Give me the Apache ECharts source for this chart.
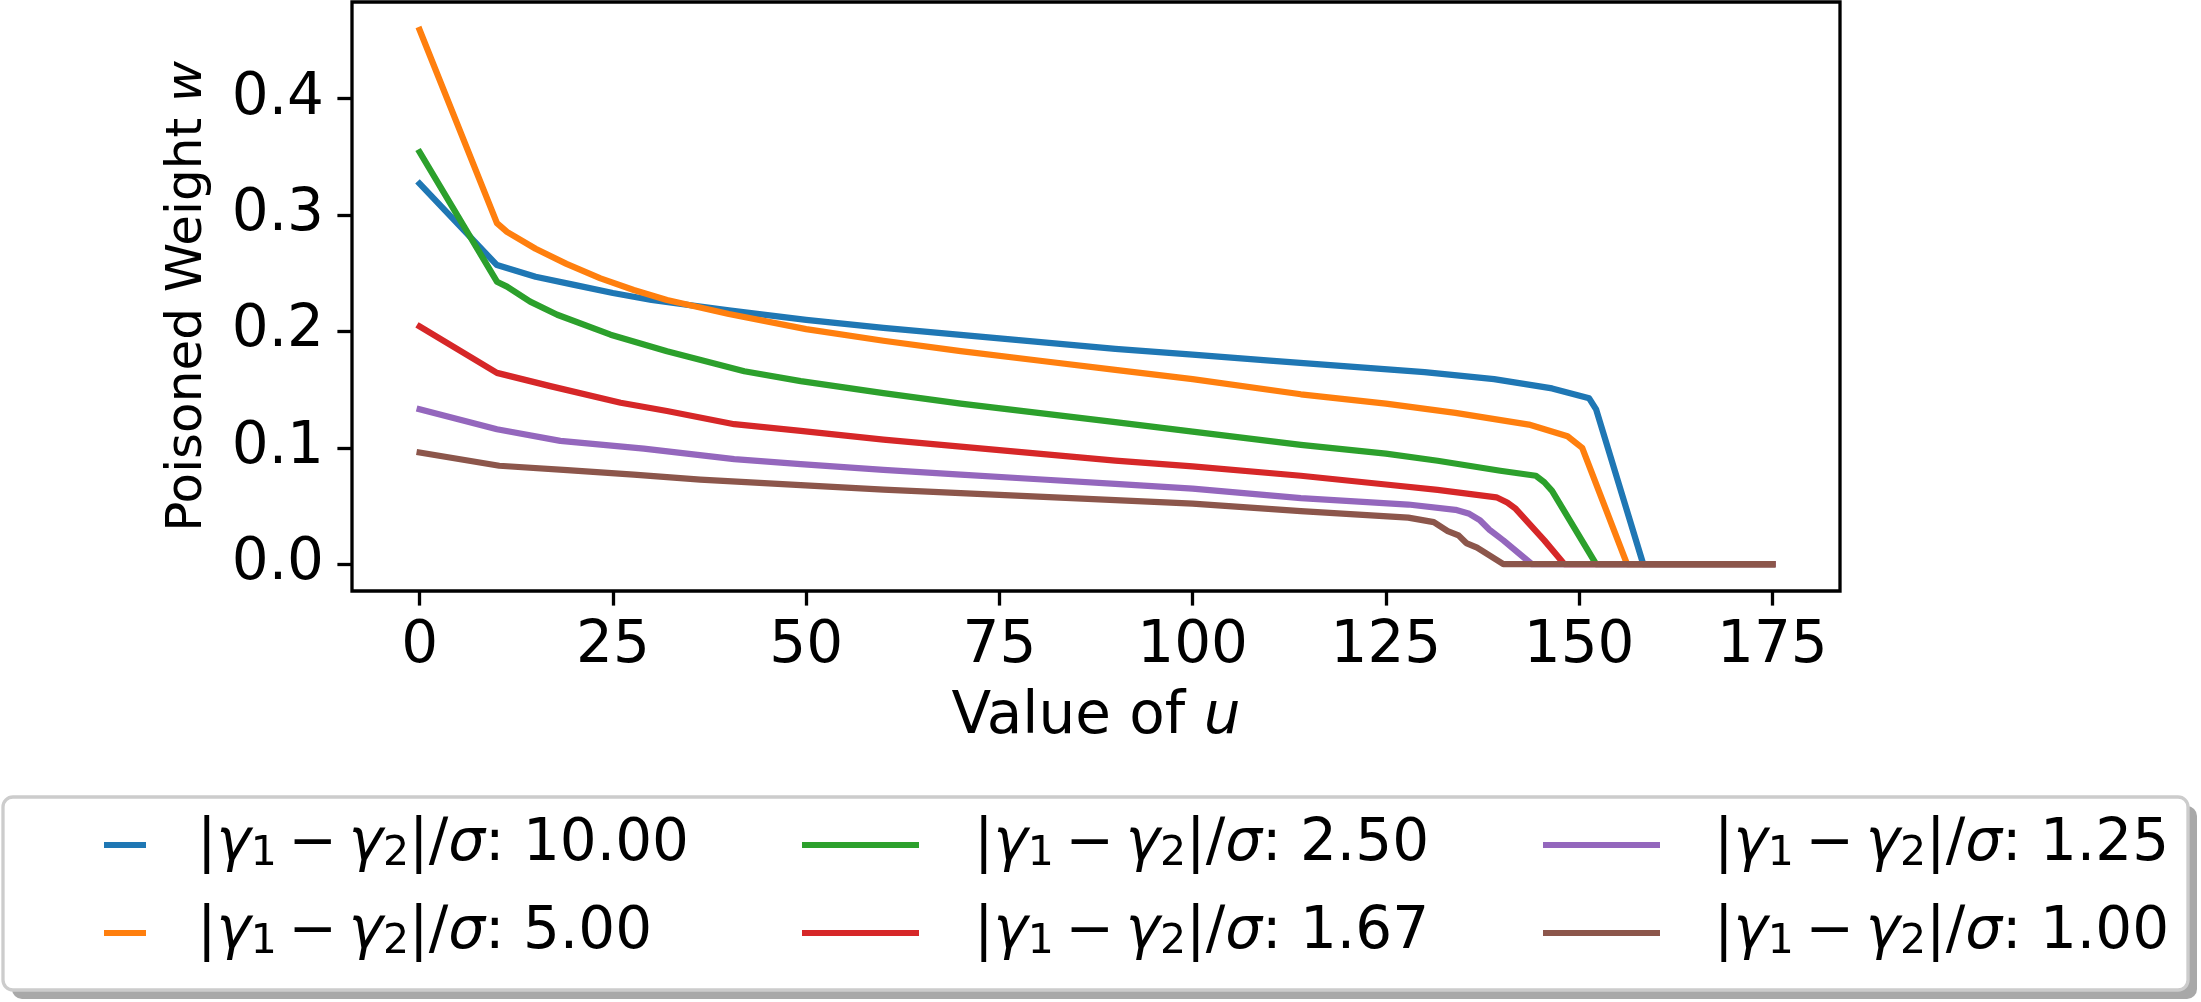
<!DOCTYPE html>
<html>
<head>
<meta charset="utf-8">
<script src="https://cdn.jsdelivr.net/npm/echarts@6/dist/echarts.min.js"></script>
<style>
  html, body { margin: 0; padding: 0; background: #fff; }
  #chart { width: 2201px; height: 1002px; }
</style>
</head>
<body>
<div id="chart"></div>
<script>
// Legend values, one per curve
const ratioLabels = ['10.00', '5.00', '2.50', '1.67', '1.25', '1.00'];
const colors = ['#1f77b4', '#ff7f0e', '#2ca02c', '#d62728', '#9467bd', '#8c564b'];

// u values and poisoned weight w
const uRatio10 = [0, 10, 15, 20, 25, 30, 40, 50, 60, 70, 80, 90, 100, 110, 120, 130, 139, 146.5, 151.3, 152.2, 158.3, 175];
const wRatio10 = [0.327, 0.257, 0.247, 0.240, 0.233, 0.227, 0.218, 0.210, 0.203, 0.197, 0.191, 0.185, 0.180, 0.175, 0.170, 0.165, 0.159, 0.151, 0.1425, 0.133, 0, 0];

const uRatio5 = [0, 10, 11.3, 15, 19, 23.4, 27.7, 32, 40, 50, 60, 70, 80, 90, 100, 114, 125, 134, 143.5, 148.5, 150.4, 156.2, 175];
const wRatio5 = [0.459, 0.293, 0.2855, 0.271, 0.258, 0.2456, 0.2356, 0.227, 0.215, 0.202, 0.192, 0.183, 0.175, 0.167, 0.159, 0.146, 0.138, 0.130, 0.120, 0.110, 0.100, 0, 0];

const uRatio25 = [0, 10, 11.3, 14.3, 17.8, 24.7, 32, 42, 49.3, 60, 70, 80, 90, 100, 114, 125, 131.7, 139.8, 144.4, 145.5, 146.5, 152.2, 175];
const wRatio25 = [0.354, 0.2427, 0.2385, 0.2256, 0.2143, 0.1972, 0.1829, 0.1658, 0.1573, 0.147, 0.138, 0.130, 0.122, 0.114, 0.1026, 0.095, 0.0889, 0.0803, 0.076, 0.0704, 0.063, 0, 0];

const uRatio167 = [0, 10, 16.9, 26, 32, 40.7, 49.3, 60, 70, 80, 90, 100, 114, 125, 131.7, 139.3, 140.7, 141.8, 145.5, 148.1, 175];
const wRatio167 = [0.2043, 0.1644, 0.153, 0.1387, 0.1316, 0.1203, 0.1145, 0.107, 0.101, 0.095, 0.089, 0.084, 0.076, 0.0685, 0.0638, 0.0575, 0.053, 0.0476, 0.0205, 0, 0];

const uRatio125 = [0, 10, 18.2, 29, 40.7, 49.3, 60, 70, 80, 90, 100, 114, 127.9, 134, 135.8, 137.2, 138.4, 140.2, 143.9, 175];
const wRatio125 = [0.1331, 0.116, 0.106, 0.0994, 0.0903, 0.086, 0.081, 0.077, 0.073, 0.069, 0.065, 0.0567, 0.0513, 0.0467, 0.0433, 0.0376, 0.0296, 0.0205, 0, 0];

const uRatio1 = [0, 10.3, 19.1, 27.7, 36.3, 49.3, 60, 70, 80, 90, 100, 114, 127.9, 131.2, 133, 134.4, 135.4, 136.8, 140.2, 175];
const wRatio1 = [0.096, 0.0846, 0.0809, 0.0769, 0.0726, 0.068, 0.064, 0.061, 0.058, 0.055, 0.052, 0.0456, 0.040, 0.0362, 0.0285, 0.0248, 0.0182, 0.0142, 0, 0];

const xTicks = [0, 25, 50, 75, 100, 125, 150, 175];
const yTicks = [0, 0.1, 0.2, 0.3, 0.4];

const curves = [
  [uRatio10, wRatio10],
  [uRatio5, wRatio5],
  [uRatio25, wRatio25],
  [uRatio167, wRatio167],
  [uRatio125, wRatio125],
  [uRatio1, wRatio1]
];

const FONT = 'DejaVu Sans';
// thin spaces around the minus, like mathtext
const seriesNames = ratioLabels.map(r => '|γ1\u2009−\u2009γ2|/σ: ' + r);

const chart = echarts.init(document.getElementById('chart'));

// mathtext-like label: italic greek letters, subscript digits
function legendLabel(name) {
  return name
    .replace(/γ(\d)/g, '{i|γ}{s|$1}')
    .replace(/σ/g, '{i|σ}');
}

const legendRich = {
  i: { fontFamily: FONT, fontSize: 58, fontStyle: 'italic', color: '#000', lineHeight: 60 },
  s: { fontFamily: FONT, fontSize: 41, color: '#000', lineHeight: 28, verticalAlign: 'bottom' }
};

function makeLegend(names, left, iconW, pad) {
  return {
    orient: 'vertical',
    left: left,
    top: 815,
    padding: 0,
    itemGap: 28,
    itemWidth: iconW,
    itemHeight: 6,
    icon: 'rect',
    selectedMode: false,
    data: names,
    formatter: legendLabel,
    textStyle: {
      fontFamily: FONT,
      fontSize: 58,
      lineHeight: 60,
      color: '#000',
      padding: [0, 0, 0, pad],
      rich: legendRich
    }
  };
}

const option = {
  backgroundColor: '#fff',
  animation: false,
  graphic: [
    {
      type: 'rect',
      shape: { x: 12, y: 806, width: 2185, height: 193, r: 10 },
      style: { fill: '#a8a8a8' },
      z: 0
    },
    {
      type: 'rect',
      shape: { x: 3, y: 797, width: 2185, height: 193, r: 10 },
      style: { fill: '#fff', stroke: '#cccccc', lineWidth: 3.3 },
      z: 1
    }
  ],
  grid: {
    left: 352,
    top: 2,
    width: 1488,
    height: 589,
    show: true,
    borderColor: '#000',
    borderWidth: 3.3,
    backgroundColor: 'transparent'
  },
  legend: [
    makeLegend(seriesNames.slice(0, 2), 104, 42, 46),
    makeLegend(seriesNames.slice(2, 4), 802, 117, 50),
    makeLegend(seriesNames.slice(4, 6), 1543, 117, 49)
  ],
  xAxis: {
    type: 'value',
    min: -8.75,
    max: 183.75,
    name: 'Value of {i|u}',
    nameLocation: 'middle',
    nameGap: 98,
    nameTextStyle: {
      fontFamily: FONT, fontSize: 58, color: '#000',
      rich: { i: { fontFamily: FONT, fontSize: 58, fontStyle: 'italic', color: '#000' } }
    },
    axisLine: { show: false, onZero: false },
    splitLine: { show: false },
    axisTick: { show: true, customValues: xTicks, length: 14.6, lineStyle: { color: '#000', width: 3.3 } },
    axisLabel: { customValues: xTicks, margin: 27, fontFamily: FONT, fontSize: 58, color: '#000' }
  },
  yAxis: {
    type: 'value',
    min: -0.023,
    max: 0.483,
    name: 'Poisoned Weight {i|w}',
    nameLocation: 'middle',
    nameRotate: 90,
    nameGap: 139,
    nameTextStyle: {
      fontFamily: FONT, fontSize: 50, color: '#000',
      rich: { i: { fontFamily: FONT, fontSize: 50, fontStyle: 'italic', color: '#000' } }
    },
    axisLine: { show: false, onZero: false },
    splitLine: { show: false },
    axisTick: { show: true, customValues: yTicks, length: 14.6, lineStyle: { color: '#000', width: 3.3 } },
    axisLabel: {
      customValues: yTicks, margin: 28, fontFamily: FONT, fontSize: 58, color: '#000',
      formatter: v => v.toFixed(1)
    }
  },
  series: curves.map(([u, w], i) => ({
    name: seriesNames[i],
    type: 'line',
    showSymbol: false,
    symbol: 'none',
    color: colors[i],
    lineStyle: { width: 6.25, color: colors[i], join: 'round', cap: 'square' },
    data: u.map((x, k) => [x, w[k]])
  }))
};

chart.setOption(option);
</script>
</body>
</html>
